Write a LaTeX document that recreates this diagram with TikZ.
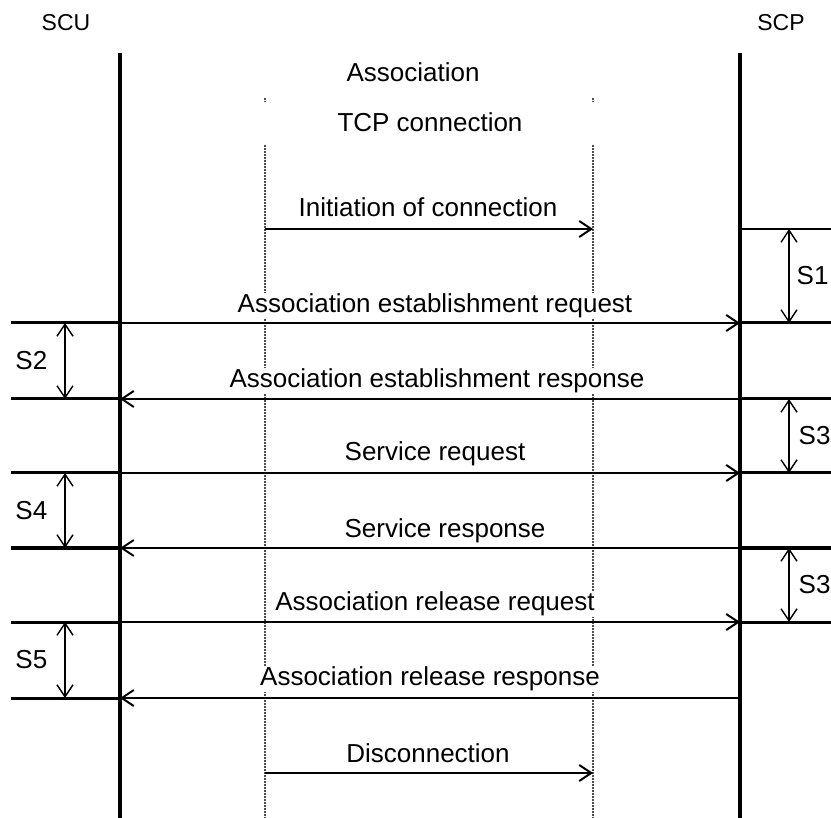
\documentclass[tikz,border=0pt]{standalone}
\usepackage{fontspec}
\setmainfont{Liberation Sans}
\usetikzlibrary{arrows.meta}

\begin{document}
\begin{tikzpicture}[x=0.5pt,y=-0.5pt,
  txt/.style={font=\fontsize{13}{15}\selectfont,fill=white,inner sep=0.5pt},
  hdr/.style={font=\fontsize{11.5}{14}\selectfont},
  msg/.style={line width=1pt,-{Straight Barb[length=6pt,width=8pt]}},
  gap/.style={line width=0.7pt,{Straight Barb[length=6pt,width=8pt]}-{Straight Barb[length=6pt,width=8pt]}},
  life/.style={line width=2pt},
  tick/.style={line width=1.5pt},
  tcp/.style={line width=1.2pt,black!70,dash pattern=on 1pt off 0.5pt}]
\useasboundingbox (0,0) rectangle (831,818);

% columns
\coordinate (ul) at (11,0);  \coordinate (u) at (120,0);
\coordinate (tl) at (265,0); \coordinate (tr) at (593,0);
\coordinate (p) at (740,0);  \coordinate (pr) at (831,0);
\coordinate (gl) at (65,0);  \coordinate (gr) at (789,0);
% rows
\foreach \n/\y in {0/53,1/229,2/323,3/399,4/473,5/548,6/622,7/698,8/773,9/818}
  \coordinate (r\n) at (0,\y);

\node[hdr] (scu) at (66,23) {SCU};
\node[hdr] (scp) at (781,23) {SCP};

% lifelines
\draw[life] (u |- r0) -- (u |- r9);
\draw[life] (p |- r0) -- (p |- r9);

% TCP connection
\coordinate (t0) at (0,98); \coordinate (t1) at (0,102); \coordinate (t2) at (0,145);
\draw[tcp] (tl |- t0) -- (tl |- t1);
\draw[tcp] (tr |- t0) -- (tr |- t1);
\draw[tcp] (tl |- t2) -- (tl |- r9);
\draw[tcp] (tr |- t2) -- (tr |- r9);

% time marks
\draw[line width=1pt] (p |- r1) -- (pr |- r1);
\foreach \n in {2,...,6} \draw[tick] (p |- r\n) -- (pr |- r\n);
\foreach \n in {2,...,7} \draw[tick] (ul |- r\n) -- (u |- r\n);

% messages
\draw[msg] (tl |- r1) -- (tr |- r1);
\draw[msg] (u |- r2) -- (p |- r2);
\draw[msg] (p |- r3) -- (u |- r3);
\draw[msg] (u |- r4) -- (p |- r4);
\draw[msg] (p |- r5) -- (u |- r5);
\draw[msg] (u |- r6) -- (p |- r6);
\draw[msg] (p |- r7) -- (u |- r7);
\draw[msg] (tl |- r8) -- (tr |- r8);

% intervals
\draw[gap] (gr |- r1) -- (gr |- r2) node[midway,right=3pt,txt] (s1) {S1};
\draw[gap] (gl |- r2) -- (gl |- r3) node[midway,left=8pt,txt] (s2) {S2};
\draw[gap] (gr |- r3) -- (gr |- r4) node[midway,right=4pt,txt] (s3a) {S3};
\draw[gap] (gl |- r4) -- (gl |- r5) node[midway,left=8pt,txt] (s4) {S4};
\draw[gap] (gr |- r5) -- (gr |- r6) node[midway,right=4pt,txt] (s3b) {S3};
\draw[gap] (gl |- r6) -- (gl |- r7) node[midway,left=8pt,txt] (s5) {S5};

% labels
\node[txt] (assoc) at (413,72) {Association};
\node[txt] (tcpc) at (430,122) {TCP connection};
\node[txt] (m1) at (428,207) {Initiation of connection};
\node[txt] (m2) at (435,306) {Association establishment request};
\node[txt] (m3) at (437,381) {Association establishment response};
\node[txt] (m4) at (435,454) {Service request};
\node[txt] (m5) at (445,531) {Service response};
\node[txt] (m6) at (435,604) {Association release request};
\node[txt] (m7) at (430,679) {Association release response};
\node[txt] (m8) at (428,753) {Disconnection};
\end{tikzpicture}
\end{document}
